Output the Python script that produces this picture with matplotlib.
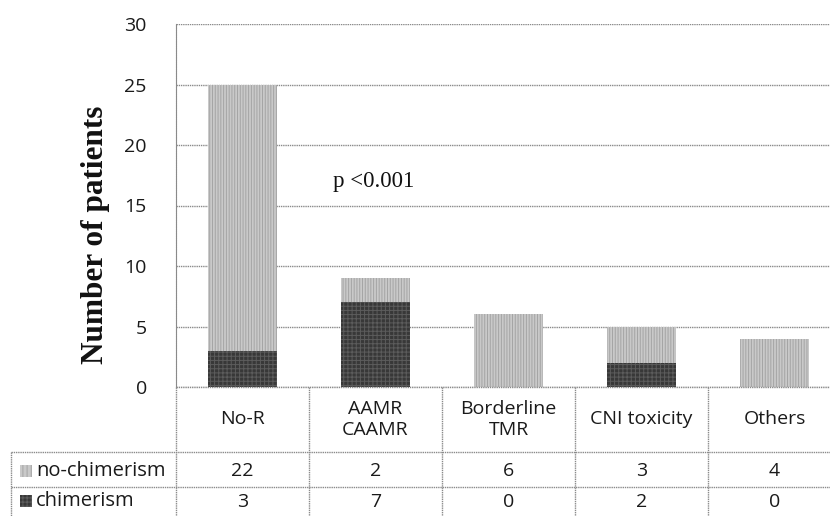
import numpy as np
import matplotlib.pyplot as plt
from matplotlib.patches import Rectangle

categories = ["No-R", "AAMR\nCAAMR", "Borderline\nTMR", "CNI toxicity", "Others"]
no_chimerism = [22, 2, 6, 3, 4]
chimerism = [3, 7, 0, 2, 0]
series_names = ["no-chimerism", "chimerism"]
y_ticks = [0, 5, 10, 15, 20, 25, 30]

plt.rcParams['font.family'] = ['Open Sans', 'DejaVu Sans']
plt.rcParams['hatch.linewidth'] = 0.7

W, H = 830, 516
fig = plt.figure(figsize=(W / 100, H / 100), dpi=100)

# plot area in pixels: x 176 -> 841 (cropped on the right), y 24 -> 387
x0, x1, y0, y1 = 176, 841, 24, 387
ax = fig.add_axes([x0 / W, 1 - y1 / H, (x1 - x0) / W, (y1 - y0) / H])

n = len(categories)
xs = np.arange(n) + 0.5
light_fc, light_hc = "#c9c9c9", "#a4a4a4"
dark_fc, dark_hc = "#383838", "#5c5c5c"
txt = "#1a1a1a"

ax.bar(xs, chimerism, width=0.52, color=dark_fc, edgecolor=dark_hc,
       hatch="++++", linewidth=0, zorder=3)
ax.bar(xs, no_chimerism, width=0.52, bottom=chimerism, color=light_fc,
       edgecolor=light_hc, hatch="||||||", linewidth=0, zorder=3)

ax.set_xlim(0, n)
ax.set_ylim(0, 30)
ax.set_yticks(y_ticks)
ax.set_yticklabels([str(t) for t in y_ticks], fontsize=14, color=txt)
ax.tick_params(axis="y", length=0, pad=21)
ax.set_xticks([])
ax.yaxis.grid(True, color="#8a8a8a", linewidth=1.0, linestyle=(0, (1, 0.6)))
ax.set_axisbelow(True)
for s in ["top", "right", "bottom"]:
    ax.spines[s].set_visible(False)
ax.spines["left"].set_color("#8a8a8a")
ax.spines["left"].set_linestyle((0, (1, 0.6)))

ax.set_ylabel("Number of patients", family="Liberation Serif", fontweight="bold",
              fontsize=22.5, color="#111111", va="center")
ax.yaxis.set_label_coords((95 - x0) / (x1 - x0), (y1 - 235) / (y1 - y0))

ax.text(1.18, 17.0, "p <0.001", family="Liberation Serif", fontsize=16.5,
        ha="left", va="center", color="#111111")

# data table below the axis, drawn in pixel coordinates
def fx(px):
    return px / W

def fy(py):
    return 1 - py / H

line_kw = dict(color="#8a8a8a", linewidth=1.0, linestyle=(0, (1, 0.6)),
               transform=fig.transFigure)
col_w = (x1 - x0) / n
row_a, row_b, row_c, row_d = 387, 452, 487, 530
left = 11

fig.add_artist(plt.Line2D([fx(x0), fx(x1)], [fy(row_a), fy(row_a)], **line_kw))
for yy in (row_b, row_c):
    fig.add_artist(plt.Line2D([fx(left), fx(x1)], [fy(yy), fy(yy)], **line_kw))
for i in range(n + 1):
    xx = x0 + i * col_w
    fig.add_artist(plt.Line2D([fx(xx), fx(xx)], [fy(row_a), fy(row_d)], **line_kw))
fig.add_artist(plt.Line2D([fx(left), fx(left)], [fy(row_b), fy(row_d)], **line_kw))

for i, cat in enumerate(categories):
    cx = x0 + (i + 0.5) * col_w
    fig.text(fx(cx), fy((row_a + row_b) / 2), cat, ha="center", va="center",
             fontsize=14, color=txt, linespacing=1.2)
    fig.text(fx(cx), fy(471), str(no_chimerism[i]), ha="center",
             va="center", fontsize=14, color=txt)
    fig.text(fx(cx), fy(502), str(chimerism[i]), ha="center",
             va="center", fontsize=14, color=txt)

for name, yy, fc, hc, hatch in [
        (series_names[0], 471, light_fc, light_hc, "||||"),
        (series_names[1], 501, dark_fc, dark_hc, "++++")]:
    fig.add_artist(Rectangle((fx(20), fy(yy + 6)), 12 / W, 12 / H,
                             facecolor=fc, edgecolor=hc, hatch=hatch, linewidth=0,
                             transform=fig.transFigure))
    fig.text(fx(36), fy(yy), name, ha="left", va="center", fontsize=14.5,
             color=txt)

fig.savefig("out.png", dpi=100)
